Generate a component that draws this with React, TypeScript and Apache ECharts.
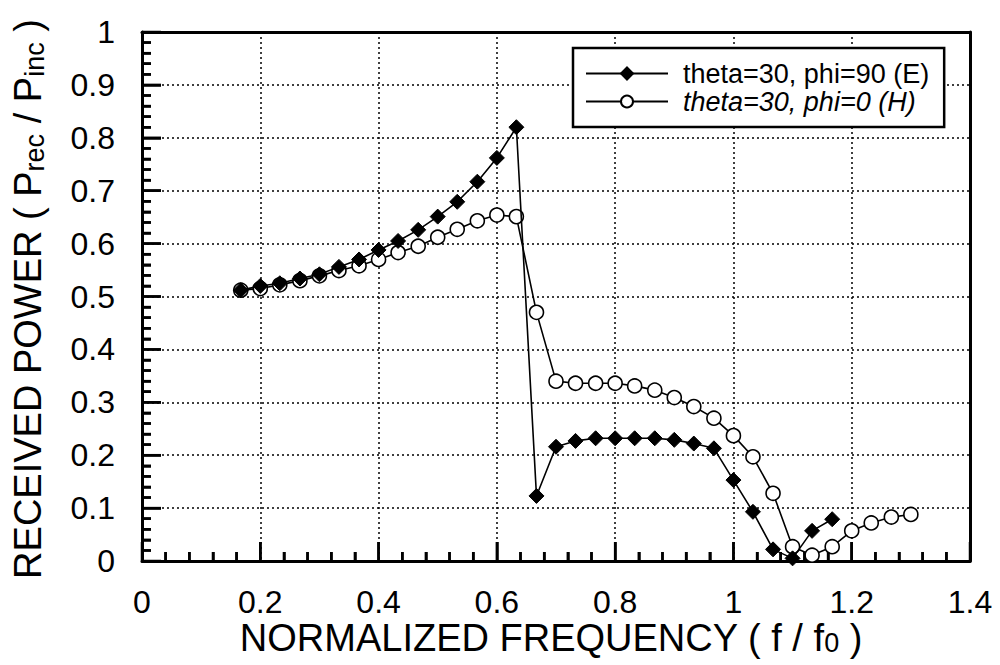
import React, { useEffect, useRef } from "react";
import * as echarts from "echarts";

const FONT = "'Liberation Sans', Arial, Helvetica, sans-serif";

// Normalized frequency (f / f0) sample points
const freqE = [
  0.167, 0.2, 0.233, 0.267, 0.3, 0.333, 0.367, 0.4, 0.433, 0.467, 0.5, 0.533,
  0.567, 0.6, 0.633, 0.667, 0.7, 0.733, 0.767, 0.8, 0.833, 0.867, 0.9, 0.933,
  0.967, 1.0, 1.033, 1.067, 1.1, 1.133, 1.167,
];
const powerE = [
  0.512, 0.52, 0.525, 0.534, 0.542, 0.556, 0.57, 0.588, 0.605, 0.626, 0.651,
  0.679, 0.717, 0.762, 0.82, 0.123, 0.216, 0.227, 0.232, 0.232, 0.232, 0.232,
  0.229, 0.222, 0.213, 0.153, 0.093, 0.022, 0.005, 0.057, 0.079,
];

const freqH = [
  0.167, 0.2, 0.233, 0.267, 0.3, 0.333, 0.367, 0.4, 0.433, 0.467, 0.5, 0.533,
  0.567, 0.6, 0.633, 0.667, 0.7, 0.733, 0.767, 0.8, 0.833, 0.867, 0.9, 0.933,
  0.967, 1.0, 1.033, 1.067, 1.1, 1.133, 1.167, 1.2, 1.233, 1.267, 1.3,
];
const powerH = [
  0.512, 0.515, 0.522, 0.53, 0.539, 0.549, 0.558, 0.57, 0.583, 0.595, 0.612,
  0.627, 0.643, 0.654, 0.651, 0.47, 0.34, 0.336, 0.336, 0.336, 0.331, 0.323,
  0.309, 0.292, 0.27, 0.237, 0.197, 0.128, 0.027, 0.011, 0.027, 0.057, 0.072,
  0.083, 0.088,
];

const seriesNames = ["theta=30, phi=90 (E)", "theta=30, phi=0 (H)"];

const xAxisRange = { min: 0, max: 1.4, interval: 0.2 };
const yAxisRange = { min: 0, max: 1, interval: 0.1 };

// tick positions (inward tick marks on the bottom and left axes)
const xMajorTicks = [0, 0.2, 0.4, 0.6, 0.8, 1.0, 1.2, 1.4];
const xMinorTicks = [
  0.04, 0.08, 0.12, 0.16, 0.24, 0.28, 0.32, 0.36, 0.44, 0.48, 0.52, 0.56, 0.64,
  0.68, 0.72, 0.76, 0.84, 0.88, 0.92, 0.96, 1.04, 1.08, 1.12, 1.16, 1.24, 1.28,
  1.32, 1.36,
];
const yMajorTicks = [0, 0.1, 0.2, 0.3, 0.4, 0.5, 0.6, 0.7, 0.8, 0.9, 1.0];
const yMinorTicks = [
  0.02, 0.04, 0.06, 0.08, 0.12, 0.14, 0.16, 0.18, 0.22, 0.24, 0.26, 0.28, 0.32,
  0.34, 0.36, 0.38, 0.42, 0.44, 0.46, 0.48, 0.52, 0.54, 0.56, 0.58, 0.62, 0.64,
  0.66, 0.68, 0.72, 0.74, 0.76, 0.78, 0.82, 0.84, 0.86, 0.88, 0.92, 0.94, 0.96,
  0.98,
];

export default function App() {
  const ref = useRef<HTMLDivElement>(null);

  useEffect(() => {
    if (!ref.current) return;
    const chart = echarts.init(ref.current, null, { renderer: "svg" });

    const dataE = freqE.map((f, i) => [f, powerE[i]]);
    const dataH = freqH.map((f, i) => [f, powerH[i]]);

    const gridAxis = {
      axisLine: { show: true, onZero: false, lineStyle: { color: "#000", width: 3 } },
      axisTick: { show: true, inside: true, length: 19, lineStyle: { color: "#000", width: 2.5 } },
      minorTick: { show: true, splitNumber: 5, length: 9, lineStyle: { color: "#000", width: 2.5 } },
      splitLine: { show: true, lineStyle: { color: "#000", width: 1.5, type: [2, 3] } },
    };
    const frameAxis = {
      axisLine: { show: true, onZero: false, lineStyle: { color: "#000", width: 3 } },
      axisTick: { show: false },
      minorTick: { show: false },
      splitLine: { show: false },
      axisLabel: { show: false },
    };
    const labelStyle = { color: "#000", fontSize: 32, fontFamily: FONT, lineHeight: 30 };

    chart.setOption({
      animation: false,
      grid: { left: 142, right: 30, top: 32, bottom: 104 },
      xAxis: [
        {
          type: "value",
          position: "bottom",
          ...xAxisRange,
          ...gridAxis,
          axisLabel: { ...labelStyle, margin: 26 },
        },
        { type: "value", position: "top", ...xAxisRange, ...frameAxis },
      ],
      yAxis: [
        {
          type: "value",
          position: "left",
          ...yAxisRange,
          ...gridAxis,
          axisLabel: { ...labelStyle, margin: 27 },
        },
        { type: "value", position: "right", ...yAxisRange, ...frameAxis },
      ],
      legend: {
        orient: "vertical",
        left: 573,
        top: 48,
        padding: [12, 15, 12, 12],
        backgroundColor: "#fff",
        borderColor: "#000",
        borderWidth: 2.5,
        borderRadius: 0,
        itemWidth: 82,
        itemHeight: 15,
        itemGap: 1,
        data: seriesNames,
        formatter: (name: string) =>
          name.indexOf("(H)") >= 0 ? `{it|${name}}` : `{up|${name}}`,
        textStyle: {
          color: "#000",
          fontSize: 27,
          fontFamily: FONT,
          lineHeight: 27,
          padding: [0, 0, 0, 10],
          rich: {
            up: { fontSize: 27, fontFamily: FONT, color: "#000", lineHeight: 27 },
            it: { fontSize: 27, fontFamily: FONT, color: "#000", fontStyle: "italic", lineHeight: 27 },
          },
        },
      },
      series: [
        {
          name: seriesNames[0],
          type: "line",
          xAxisIndex: 0,
          yAxisIndex: 0,
          data: dataE,
          z: 4,
          symbol: "diamond",
          symbolSize: 15,
          showAllSymbol: true,
          lineStyle: { color: "#000", width: 1.6 },
          itemStyle: { color: "#000", borderColor: "#000", borderWidth: 1 },
        },
        {
          name: seriesNames[1],
          type: "line",
          xAxisIndex: 0,
          yAxisIndex: 0,
          data: dataH,
          z: 3,
          symbol: "circle",
          symbolSize: 14,
          showAllSymbol: true,
          lineStyle: { color: "#000", width: 1.6 },
          itemStyle: { color: "#fff", borderColor: "#000", borderWidth: 1.6 },
        },
      ],
    });

    // Tick marks placed through the chart's own scales (convertToPixel)
    const finder = { xAxisIndex: 0, yAxisIndex: 0 };
    const tickW = 2.5;
    const tickEls: any[] = [];
    const addX = (v: number, len: number) => {
      const p = chart.convertToPixel(finder as any, [v, 0]) as number[];
      if (!p) return;
      tickEls.push({
        type: "rect",
        z: 50,
        silent: true,
        shape: { x: p[0] - tickW / 2, y: p[1] - len, width: tickW, height: len },
        style: { fill: "#000" },
      });
    };
    const addY = (v: number, len: number) => {
      const p = chart.convertToPixel(finder as any, [0, v]) as number[];
      if (!p) return;
      tickEls.push({
        type: "rect",
        z: 50,
        silent: true,
        shape: { x: p[0], y: p[1] - tickW / 2, width: len, height: tickW },
        style: { fill: "#000" },
      });
    };
    xMajorTicks.forEach((v) => addX(v, 19));
    xMinorTicks.forEach((v) => addX(v, 9));
    yMajorTicks.forEach((v) => addY(v, 19));
    yMinorTicks.forEach((v) => addY(v, 9));

    chart.setOption({
      graphic: [
        {
          type: "text",
          x: 551,
          y: 638,
          style: {
            text: "{m|NORMALIZED FREQUENCY ( f / f}{s|0}{m| )}",
            align: "center",
            verticalAlign: "middle",
            fill: "#000",
            rich: {
              m: { fontSize: 38, fontFamily: FONT, fill: "#000", lineHeight: 36 },
              s: {
                fontSize: 27,
                fontFamily: FONT,
                fill: "#000",
                lineHeight: 24,
                padding: [16, 0, 0, 0],
                verticalAlign: "bottom",
              },
            },
          },
        },
        {
          type: "text",
          x: 28,
          y: 299,
          rotation: Math.PI / 2,
          style: {
            text: "{m|RECEIVED POWER ( P}{s|rec}{m| / P}{s|inc}{m| )}",
            align: "center",
            verticalAlign: "middle",
            fill: "#000",
            rich: {
              m: { fontSize: 38, fontFamily: FONT, fill: "#000", lineHeight: 40 },
              s: {
                fontSize: 27,
                fontFamily: FONT,
                fill: "#000",
                lineHeight: 27,
                padding: [18, 0, 0, 0],
                verticalAlign: "bottom",
              },
            },
          },
        },
        ...tickEls,
      ],
    });

    return () => chart.dispose();
  }, []);

  return (
    <div
      ref={ref}
      style={{ position: "fixed", left: 0, top: 0, width: 1000, height: 665, background: "#fff" }}
    />
  );
}
